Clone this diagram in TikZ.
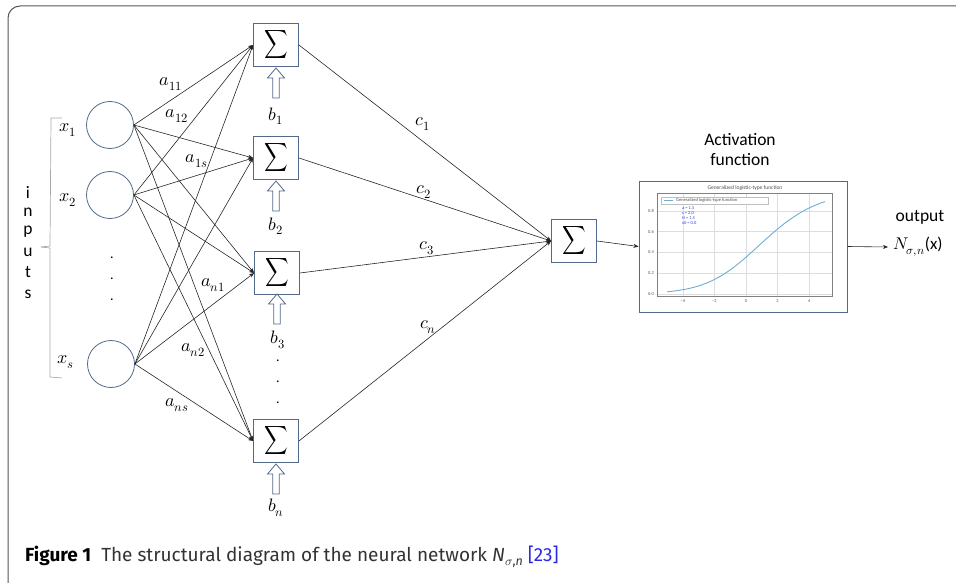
\documentclass[tikz,border=0pt]{standalone}
\usepackage{fontspec}
\usepackage{unicode-math}
\setmainfont{Carlito}
\setmathfont{latinmodern-math.otf}
\newfontfamily\capfont{Fira Sans}
\usetikzlibrary{arrows.meta}
\definecolor{frameg}{HTML}{555555}
\definecolor{nodeb}{HTML}{52698C}
\definecolor{bracketg}{HTML}{A8A8A8}
\definecolor{curveb}{HTML}{6BAED6}
\definecolor{gridg}{HTML}{DDDDDD}
\definecolor{tickg}{HTML}{555555}
\definecolor{parb}{HTML}{3A3AE0}
\definecolor{refblue}{HTML}{2A2AE8}
\newcommand{\sumglyph}{\scalebox{0.78}[0.95]{$\displaystyle\sum$}}
\tikzset{
  inp/.style={circle, draw=nodeb, line width=0.8pt, minimum size=47pt, inner sep=0pt},
  sumbox/.style={rectangle, draw=nodeb, line width=0.9pt, minimum width=45pt, minimum height=43pt, inner sep=0pt, fill=white,
    font=\fontsize{21}{21}\selectfont},
  conn/.style={draw=black!85, line width=0.6pt, -{Stealth[length=5pt,width=4pt]}},
  mlabel/.style={font=\fontsize{18}{20}\selectfont, inner sep=0pt},
  sanslabel/.style={font=\fontsize{17.5}{20}\selectfont, inner sep=0pt},
  dotlabel/.style={font=\fontsize{14}{14}\selectfont, inner sep=0pt},
  tinytext/.style={font=\fontsize{4.5}{5}\selectfont, inner sep=0pt},
  pics/biasarrow/.style={code={
    \draw[draw=nodeb, line width=0.8pt, fill=white, line join=miter]
      (-3.3,0) -- (-3.3,-20) -- (-8.5,-20) -- (0,-30) -- (8.5,-20) -- (3.3,-20) -- (3.3,0) -- cycle;
  }}
}
\begin{document}
\begin{tikzpicture}[x=1pt, y=-1pt]
\useasboundingbox (0,0) rectangle (956,583);

% outer frame of the figure panel
\draw[frameg, line width=1pt, rounded corners=12pt] (8,6) rectangle (990,600);

% brace grouping the inputs
\draw[bracketg, line width=0.7pt] (62,118) -- (51,118) -- (50,246) -- (41,247);
\draw[bracketg, line width=0.7pt] (41,247) -- (50,248) -- (50,377) -- (62,378);
\foreach \ch/\yy in {i/192, n/212, p/232, u/252, t/272, s/294}
  \node[sanslabel] at (28,\yy) {\ch};

% input neurons
\node[inp] (x1) at (110,125) {};
\node[inp] (x2) at (110,195) {};
\node[inp] (xs) at (111,364) {};
\node[mlabel] (lx1) at (68,130) {$x_1$};
\node[mlabel] (lx2) at (68,200) {$x_2$};
\node[mlabel] (lxs) at (66,362) {$x_s$};
\foreach \yy in {258,279,300}
  \node[dotlabel] at (112,\yy) {.};

% hidden summation units
\node[sumbox] (s1) at (276,45) {\sumglyph};
\node[sumbox] (s2) at (276,158) {\sumglyph};
\node[sumbox] (s3) at (277,273) {\sumglyph};
\node[sumbox] (sn) at (276,441) {\sumglyph};

% biases
\pic at (276,98) {biasarrow};
\pic at (276,211) {biasarrow};
\pic at (277,324) {biasarrow};
\pic at (276,494) {biasarrow};
\node[mlabel] (b1) at (276,116) {$b_1$};
\node[mlabel] (b2) at (276,226) {$b_2$};
\node[mlabel] (b3) at (278,340) {$b_3$};
\node[mlabel] (bn) at (276,508) {$b_n$};
\foreach \yy in {361,382,403}
  \node[dotlabel] at (278,\yy) {.};

% input-to-hidden weights
\foreach \src in {x1,x2,xs}
  \foreach \dst in {s1,s2,s3,sn}
    \draw[conn] (\src.east) -- (\dst.west);

\node[mlabel] (a11) at (171,84) {$a_{11}$};
\node[mlabel] (a12) at (177,116) {$a_{12}$};
\node[mlabel] (a1s) at (197,161) {$a_{1s}$};
\node[mlabel] (an1) at (213,285) {$a_{n1}$};
\node[mlabel] (an2) at (193,350) {$a_{n2}$};
\node[mlabel] (ans) at (177,405) {$a_{ns}$};

% output summation unit
\node[sumbox] (so) at (574,241) {\sumglyph};
\foreach \src in {s1,s2,s3,sn}
  \draw[conn] (\src.east) -- (so.west);
\node[mlabel] (c1) at (423,124) {$c_1$};
\node[mlabel] (c2) at (424,192) {$c_2$};
\node[mlabel] (c3) at (427,248) {$c_3$};
\node[mlabel] (cn) at (428,327) {$c_n$};

% activation function panel
\node[sanslabel, align=center] (act) at (740,150) {Activation\\[0pt]function};
\node[rectangle, draw=nodeb, line width=1pt, minimum width=208pt, minimum height=131pt, inner sep=0pt] (pf) at (743,246.5) {};
\draw[conn] (so.east) -- (pf.west);

% plot of the generalized logistic-type function
\begin{scope}
  \foreach \k in {-4,-2,0,2,4}
    \draw[gridg, line width=0.5pt] ({746+15.8*\k},193) -- ({746+15.8*\k},296);
  \foreach \v in {0,0.2,0.4,0.6,0.8}
    \draw[gridg, line width=0.5pt] (657,{294-104*\v}) -- (832,{294-104*\v});
  \draw[black!50, line width=0.5pt] (657,193) rectangle (832,296);
  \foreach \k/\t in {-4/−4,-2/−2,0/0,2/2,4/4}
    \node[tinytext, text=tickg] at ({746+15.8*\k},301.5) {\t};
  \foreach \v in {0.0,0.2,0.4,0.6,0.8}
    \node[tinytext, text=tickg, anchor=east] at (654,{294-104*\v}) {\v};
  \draw[curveb, line width=0.9pt] plot[domain=-5:5, samples=80, smooth]
    ({746+15.8*\x}, {294-104*(1+exp(-\x/2))^(-1.5)});
  \node[tinytext, text=black!70, font=\fontsize{5.5}{6}\selectfont] at (745,188.5) {Generalized logistic-type function};
  \draw[black!25, line width=0.4pt, fill=white] (661,197) rectangle (768,204.5);
  \draw[curveb, line width=0.8pt] (664,200.8) -- (673,200.8);
  \node[tinytext, text=black!70, anchor=west] at (676,200.8) {Generalized logistic-type function};
  \node[tinytext, text=parb, anchor=north west, align=left, font=\fontsize{4.5}{5}\selectfont] at (682,206)
    {a = 1.5\\s = 2.0\\H = 1.5\\x0 = 0.0};
\end{scope}

% network output
\node[sanslabel] (outl) at (920,217) {output};
\node[anchor=west, inner sep=5pt, font=\fontsize{17}{20}\selectfont] (nout) at (888,247) {$N_{\sigma,n}$(x)};
\draw[conn] (pf.east) -- (nout.west);

% caption
\node[anchor=west, inner sep=0pt, font=\capfont\fontsize{19}{23}\selectfont, text=black!80] (cap) at (25,557)
  {\textbf{\color{black}Figure 1}\hspace{10pt}The structural diagram of the neural network \textit{N}\raisebox{-0.35ex}{\fontsize{12.5}{13}\selectfont$\sigma$,\textit{n}} \textcolor{refblue}{[23]}};
\end{tikzpicture}
\end{document}
